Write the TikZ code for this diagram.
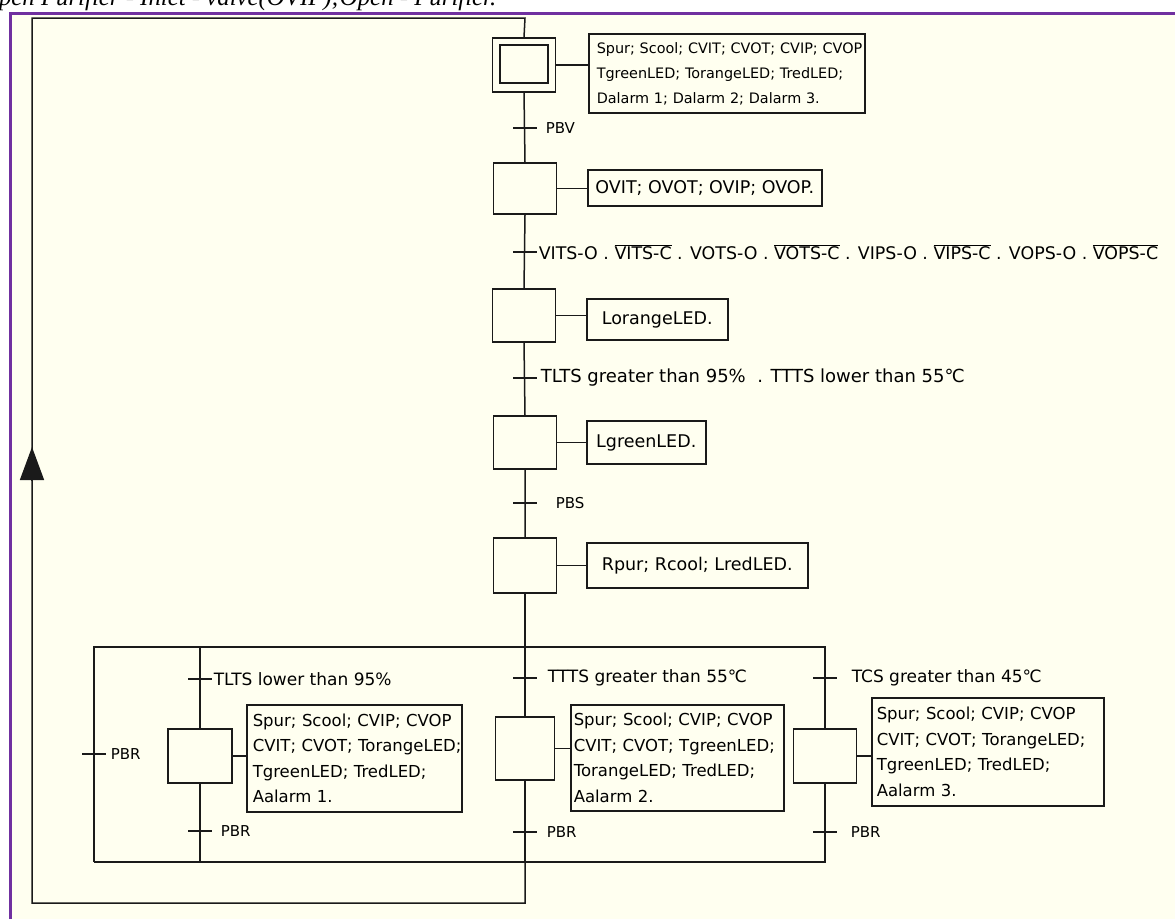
\documentclass[tikz,border=0pt]{standalone}
\usepackage{fontspec}
\setmainfont{DejaVu Sans}
\newfontfamily\headserif{Liberation Serif}
\usepackage{tikz}
\usetikzlibrary{arrows.meta,calc,positioning}
\definecolor{paperCream}{HTML}{FFFFF0}
\definecolor{frameViolet}{HTML}{7030A0}
\definecolor{inkGray}{HTML}{1A1A1A}
\newcommand{\ovl}[1]{$\overline{\hbox{#1}}$}
\newcommand{\fsz}[1]{\fontsize{#1}{25.5}\selectfont}

\begin{document}
\begin{tikzpicture}[x=1pt,y=-1pt,>=Latex,line width=1.5pt,
    stepbox/.style={draw=inkGray,minimum width=63pt,minimum height=53pt,inner sep=0pt},
    onebox/.style={draw=inkGray,anchor=west,inner sep=0pt,font=\fsz{17.5}},
    listbox/.style={draw=inkGray,anchor=west,align=left,inner xsep=6pt,inner ysep=0pt,font=\fsz{16.5}},
    tlabel/.style={anchor=west,inner sep=0pt,font=\fsz{18}},
    blabel/.style={anchor=west,inner sep=0pt,font=\fsz{17}},
    pblabel/.style={anchor=west,inner sep=0pt,font=\fsz{15}}]
  \useasboundingbox (0,0) rectangle (1175,919);
  % sheet
  \fill[paperCream] (10,13) rectangle (1175,919);
  \node[anchor=base east,inner sep=0pt,font=\headserif\itshape\fontsize{24.8}{24.8}\selectfont] (head) at (497,5)
    {Open Purifier - Inlet - valve(OVIP);Open - Purifier.};
  \draw[frameViolet,line width=3pt] (10,919) -- (10,13) -- (1175,13);

  % main sequence
  \node[stepbox,minimum height=54pt] (s0) at (524,65) {};
  \node[draw=inkGray,minimum width=48pt,minimum height=38pt,inner sep=0pt] (s0in) at (524,64) {};
  \node[stepbox,minimum height=51pt] (s1) at (525,188.5) {};
  \node[stepbox] (s2) at (524,315.5) {};
  \node[stepbox] (s3) at (525,442.5) {};
  \node[stepbox,minimum height=55pt] (s4) at (525,565.5) {};

  \node[draw=inkGray,anchor=west,align=left,inner xsep=8pt,inner ysep=0pt,text width=260pt,
        minimum height=79pt,font=\fontsize{14.4}{25}\selectfont] (a0) at (588,73.5)
    {\mbox{Spur; Scool; CVIT; CVOT; CVIP; CVOP}\\ \mbox{TgreenLED; TorangeLED; TredLED;}\\ \mbox{Dalarm 1; Dalarm 2; Dalarm 3.}};
  \node[onebox,minimum width=234pt,minimum height=36pt] (a1) at (587,188) {OVIT; OVOT; OVIP; OVOP.};
  \node[onebox,minimum width=141pt,minimum height=41pt] (a2) at (586,319.5) {LorangeLED.};
  \node[onebox,minimum width=119pt,minimum height=43pt] (a3) at (586,442.5) {LgreenLED.};
  \node[onebox,minimum width=221pt,minimum height=45pt] (a4) at (586,565.5) {Rpur; Rcool; LredLED.};

  \foreach \s/\a in {s0/a0,s1/a1,s2/a2,s3/a3,s4/a4}
    \draw[inkGray] (\s.east) -- (\s.east -| \a.west);

  \coordinate (t0) at (525,128);
  \coordinate (t1) at (525,252);
  \coordinate (t2) at (525,378);
  \coordinate (t3) at (525,503);
  \draw[inkGray] (s0.south) -- (s1.north) (s1.south) -- (s2.north)
                 (s2.south) -- (s3.north) (s3.south) -- (s4.north);
  \foreach \t in {t0,t1,t2,t3}
    \draw[inkGray] ([xshift=-12pt]\t) -- ([xshift=12pt]\t);
  \node[pblabel] (l0) at (545,128) {PBV};
  \node[tlabel,font=\fsz{17.4}] (l1) at (538,252)
    {VITS-O . \ovl{VITS-C} . VOTS-O . \ovl{VOTS-C} . VIPS-O . \ovl{VIPS-C} . VOPS-O . \ovl{VOPS-C}};
  \node[tlabel] (l2) at (540,378) {TLTS greater than 95\%\ \ . TTTS lower than 55℃};
  \node[pblabel] (l3) at (555,503) {PBS};

  % alarm branches
  \coordinate (pl) at (94,647);
  \coordinate (pm) at (525,647);
  \coordinate (pr) at (825,647);
  \coordinate (ql) at (94,862);
  \coordinate (qm) at (525,862);
  \coordinate (qr) at (825,862);
  \node[stepbox,minimum width=64pt,minimum height=54pt] (b1) at (200,756) {};
  \node[stepbox,minimum width=59pt,minimum height=63pt] (b2) at (525,748.5) {};
  \node[stepbox,minimum height=54pt] (b3) at (825,756) {};

  \node[listbox,text width=203pt,minimum height=107pt] (c1) at (246,758.5)
    {\mbox{Spur; Scool; CVIP; CVOP}\\ \mbox{CVIT; CVOT; TorangeLED;}\\ \mbox{TgreenLED; TredLED;}\\ \mbox{Aalarm 1.}};
  \node[listbox,inner xsep=3pt,text width=207pt,minimum height=106pt] (c2) at (570,758)
    {\mbox{Spur; Scool; CVIP; CVOP}\\ \mbox{CVIT; CVOT; TgreenLED;}\\ \mbox{TorangeLED; TredLED;}\\ \mbox{Aalarm 2.}};
  \node[listbox,inner xsep=5pt,text width=222pt,minimum height=108pt] (c3) at (871,752)
    {\mbox{Spur; Scool; CVIP; CVOP}\\ \mbox{CVIT; CVOT; TorangeLED;}\\ \mbox{TgreenLED; TredLED;}\\ \mbox{Aalarm 3.}};
  \foreach \s/\a in {b1/c1,b2/c2,b3/c3}
    \draw[inkGray] (\s.east) -- (\s.east -| \a.west);

  \draw[inkGray] (s4.south) -- (pm);
  \draw[inkGray] (ql) -- (pl) -- (pr) -- (b3.north) (b3.south) -- (qr) -- (ql);
  \draw[inkGray] (pl -| b1) -- (b1.north) (b1.south) -- (ql -| b1);
  \draw[inkGray] (pm) -- (b2.north) (b2.south) -- (qm);

  \foreach \x/\y in {94/754,200/679,200/831,525/678,525/832,825/678,825/832}
    \draw[inkGray] (\x-12,\y) -- (\x+12,\y);
  \node[pblabel] (r0) at (110,754) {PBR};
  \node[blabel] (e1) at (213,679) {TLTS lower than 95\%};
  \node[pblabel] (r1) at (220,831) {PBR};
  \node[blabel] (e2) at (547,678) {TTTS greater than 55℃};
  \node[pblabel] (r2) at (546,832) {PBR};
  \node[blabel] (e3) at (851,678) {TCS greater than 45℃};
  \node[pblabel] (r3) at (850,832) {PBR};

  % return to the initial step
  \coordinate (rb) at (525,903);
  \coordinate (lb) at (32,903);
  \coordinate (lt) at (32,18);
  \coordinate (mt) at (525,18);
  \coordinate (arrBase) at (32,480);
  \coordinate (arrTip) at (32,447);
  \draw[inkGray] (qm) -- (rb) -- (lb) -- (lt) -- (mt) -- (s0.north);
  \draw[inkGray,-{Triangle[length=33pt,width=24pt]}] (arrBase) -- (arrTip);
\end{tikzpicture}
\end{document}
